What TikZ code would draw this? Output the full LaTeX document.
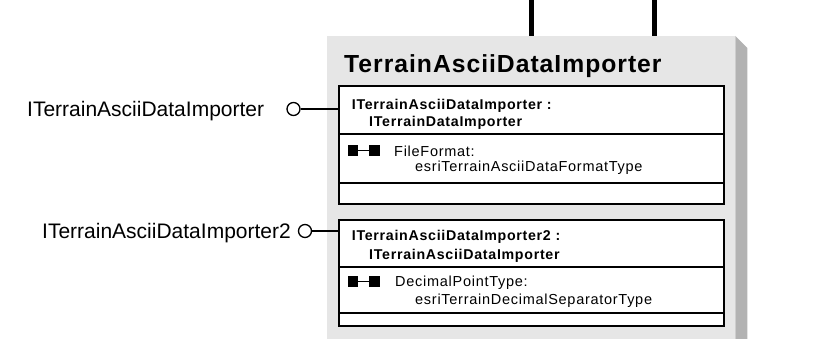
\documentclass[tikz,border=0pt]{standalone}
\usepackage{fontspec}
\setmainfont{Liberation Sans}
\newfontfamily\titlefont[LetterSpace=4]{Liberation Sans}
\newfontfamily\boxfont[LetterSpace=5]{Liberation Sans}
\usepackage{tikz}
\definecolor{classgray}{RGB}{230,230,230}
\definecolor{shadowgray}{RGB}{178,178,178}
\tikzset{
  lbl/.style={inner sep=0pt, anchor=base west},
  ifname/.style={lbl, font=\boxfont\bfseries\fontsize{14.2}{16}\selectfont},
  attr/.style={lbl, font=\boxfont\fontsize{14.5}{16}\selectfont},
  outer/.style={lbl, font=\fontsize{21}{24}\selectfont},
  ifbox/.style={draw, line width=2pt, fill=white, inner sep=0pt, anchor=north west, minimum width=385pt},
  divider/.style={line width=1.8pt},
  lolli/.style={circle, draw, line width=1.3pt, fill=white, minimum size=13pt, inner sep=0pt},
}

\begin{document}
\begin{tikzpicture}[x=1pt,y=-1pt]
  \useasboundingbox (0,0) rectangle (818,339);
  \node[fill=classgray, inner sep=0pt, anchor=north west, minimum width=408pt, minimum height=303pt] (class) at (327,36) {};
  \fill[shadowgray] (class.north east) -- ++(12,12) -- ++(0,291) -- (class.south east) -- cycle;

  \coordinate (top1) at (531.5,0);
  \coordinate (top2) at (654,0);
  \draw[line width=5pt] (top1) -- (top1 |- class.north);
  \draw[line width=5pt] (top2) -- (top2 |- class.north);

  \draw (344,72.7) node[lbl, font=\titlefont\bfseries\fontsize{24.7}{28}\selectfont] (title) {TerrainAsciiDataImporter};

  \node[ifbox, minimum height=118pt] (box1) at (338,85) {};
  \node[ifbox, minimum height=105.5pt] (box2) at (338,219) {};
  \foreach \y in {134.3,183,267.3,313.3}
    \draw[divider] (338,\y) -- (723,\y);

  \foreach \y in {150.5,281.7} {
    \fill (348.3,\y-5.5) rectangle (358.3,\y+5.5);
    \fill (369.3,\y-5.5) rectangle (380,\y+5.5);
    \draw[line width=1.5pt] (358,\y) -- (370,\y);
  }

  \draw (351.7,109.7) node[ifname] (if1a) {ITerrainAsciiDataImporter :};
  \draw (369,127) node[ifname] (if1b) {ITerrainDataImporter};
  \draw (394,157) node[attr] (fmt) {FileFormat:};
  \draw (415,171.7) node[attr] (fmttype) {esriTerrainAsciiDataFormatType};

  \draw (351.7,240.7) node[ifname] (if2a) {ITerrainAsciiDataImporter2 :};
  \draw (369,259.3) node[ifname] (if2b) {ITerrainAsciiDataImporter};
  \draw (395,286) node[attr] (dec) {DecimalPointType:};
  \draw (415,304) node[attr] (dectype) {esriTerrainDecimalSeparatorType};

  \draw (27,117) node[outer] (lbl1) {ITerrainAsciiDataImporter};
  \draw (42,238.3) node[outer] (lbl2) {ITerrainAsciiDataImporter2};
  \node[lolli] (lp1) at (293.5,109) {};
  \node[lolli] (lp2) at (305,231) {};

  \path[-,line width=1.2pt] (lp1) edge (lp1 -| box1.west);
  \path[-,line width=1.2pt] (lp2) edge (lp2 -| box2.west);
\end{tikzpicture}
\end{document}
